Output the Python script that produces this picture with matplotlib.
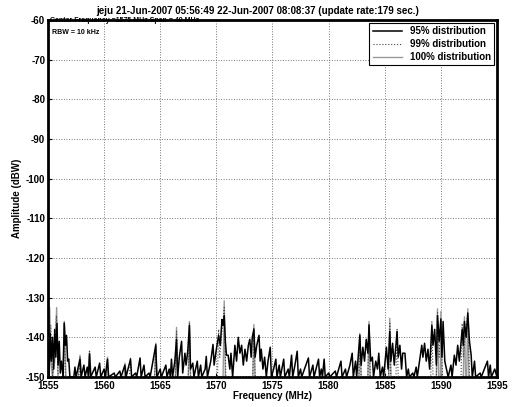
import matplotlib.pyplot as plt
import numpy as np

plt.rcParams['font.family'] = ['Liberation Sans', 'DejaVu Sans']
plt.rcParams['font.weight'] = 'bold'
plt.rcParams['axes.unicode_minus'] = False

# 95% distribution (black)
freq_95 = [1555.0, 1555.1, 1555.2, 1555.3, 1555.4, 1555.5, 1555.6, 1555.7, 1555.8, 1555.9,
           1556.0, 1556.1, 1556.2, 1556.35, 1556.45, 1556.55, 1556.65, 1556.75, 1556.85, 1556.95,
           1557.3, 1557.4, 1557.5, 1557.85, 1557.95, 1558.2, 1558.3, 1558.5, 1558.6, 1558.7,
           1558.8, 1559.2, 1559.3, 1559.6, 1559.7, 1560.0, 1560.1, 1560.3, 1560.4, 1560.9,
           1561.0, 1561.4, 1561.5, 1561.85, 1561.95, 1562.35, 1562.45, 1562.8, 1562.9, 1563.2,
           1563.3, 1563.55, 1563.65, 1564.0, 1564.1, 1564.6, 1564.7, 1565.0, 1565.1, 1565.5,
           1565.6, 1565.8, 1565.9, 1566.0, 1566.1, 1566.3, 1566.45, 1566.55, 1566.7, 1566.9,
           1567.0, 1567.2, 1567.3, 1567.45, 1567.6, 1567.7, 1567.9, 1568.0, 1568.3, 1568.4,
           1568.6, 1568.7, 1569.0, 1569.1, 1569.2, 1569.5, 1569.7, 1569.8, 1570.0, 1570.2,
           1570.35, 1570.5, 1570.6, 1570.7, 1570.8, 1570.9, 1571.05, 1571.2, 1571.3, 1571.45,
           1571.65, 1571.8, 1571.95, 1572.1, 1572.25, 1572.4, 1572.55, 1572.7, 1572.85, 1572.98,
           1573.1, 1573.2, 1573.34, 1573.45, 1573.6, 1573.8, 1573.9, 1574.0, 1574.15, 1574.3,
           1574.45, 1574.6, 1574.8, 1574.9, 1575.1, 1575.3, 1575.4, 1575.6, 1575.7, 1576.0,
           1576.1, 1576.4, 1576.5, 1576.7, 1576.8, 1577.0, 1577.2, 1577.3, 1577.5, 1577.6,
           1578.2, 1578.3, 1578.6, 1578.7, 1579.1, 1579.2, 1579.35, 1579.45, 1579.6, 1579.7,
           1580.0, 1580.1, 1580.6, 1580.7, 1581.1, 1581.2, 1581.5, 1581.6, 1581.9, 1582.1,
           1582.2, 1582.4, 1582.5, 1582.78, 1582.9, 1583.05, 1583.2, 1583.35, 1583.5, 1583.6,
           1583.75, 1583.9, 1584.0, 1584.2, 1584.35, 1584.47, 1584.6, 1584.8, 1584.9, 1585.15,
           1585.3, 1585.45, 1585.55, 1585.7, 1585.85, 1586.1, 1586.2, 1586.35, 1586.5, 1586.6,
           1586.8, 1586.95, 1587.1, 1587.2, 1587.5, 1587.6, 1587.8, 1587.9, 1588.1, 1588.3,
           1588.4, 1588.55, 1588.7, 1588.85, 1589.0, 1589.2, 1589.3, 1589.45, 1589.6, 1589.7,
           1589.85, 1590.0, 1590.1, 1590.2, 1590.35, 1590.5, 1590.65, 1590.9, 1591.0, 1591.2,
           1591.35, 1591.5, 1591.65, 1591.9, 1592.0, 1592.1, 1592.25, 1592.4, 1592.55, 1592.7,
           1592.8, 1593.0, 1593.1, 1593.5, 1593.6, 1594.15, 1594.25, 1594.4, 1594.5, 1594.8,
           1595.0]
amp_95 = [-141, -150, -139, -146, -140, -148, -138, -145, -136.5, -147,
          -141, -149, -146, -150, -136.5, -142, -139.5, -146, -145.5, -150,
          -150, -147.5, -150, -145.5, -150, -147, -150, -147.5, -150, -144.2,
          -150, -147.5, -150, -146.5, -150, -148, -150, -145.5, -150, -149,
          -150, -148.5, -150, -147, -150, -145.5, -150, -149, -150, -145.2,
          -150, -147, -150, -149, -150, -142, -150, -148, -150, -147,
          -150, -148, -150, -145.5, -150, -146, -140.5, -150, -145, -141,
          -149, -144, -147, -143.5, -137, -148, -146.5, -150, -146, -150,
          -147, -150, -148, -144.8, -150, -146, -141.8, -147, -143, -139.5,
          -142, -135.5, -137, -134.5, -141, -144.5, -144.5, -148, -144, -150,
          -142, -146, -140, -144, -142, -147, -143, -146, -142, -140.5,
          -145, -140, -138, -145, -142, -139.5, -146, -143, -148, -145,
          -150, -146, -142.5, -150, -148, -145.5, -150, -147, -150, -145.5,
          -150, -148, -150, -144.5, -150, -147, -143.5, -150, -148, -150,
          -145.2, -150, -147, -150, -145.5, -150, -148, -150, -145.5, -150,
          -149, -150, -148.5, -150, -146, -150, -148, -150, -147, -144,
          -150, -146, -150, -139.5, -147, -142.5, -146, -140.5, -144, -137,
          -146, -145, -150, -146, -148, -144, -150, -147.5, -150, -142.5,
          -148, -138.5, -146, -141.5, -147, -138.5, -145, -142, -148, -144,
          -144, -150, -148, -150, -149, -150, -147.5, -150, -146, -142,
          -145, -141.5, -146, -143, -148, -137, -142, -138, -147, -134.5,
          -141, -135.5, -145, -136, -146, -148, -150, -147, -150, -144.5,
          -147, -142, -146, -138, -142, -136, -140, -134, -141, -144.5,
          -150, -146, -150, -149, -150, -146, -150, -147, -150, -148,
          -150]

# 99% distribution (dotted)
freq_99 = [1555.0, 1555.1, 1555.25, 1555.4, 1555.75, 1555.9, 1556.35, 1556.45, 1556.55, 1557.75,
           1557.85, 1557.95, 1558.6, 1558.7, 1558.8, 1562.25, 1562.35, 1562.45, 1564.5, 1564.6,
           1564.7, 1566.35, 1566.45, 1566.55, 1567.5, 1567.6, 1567.7, 1570.1, 1570.2, 1570.3,
           1570.7, 1570.85, 1573.25, 1573.34, 1573.45, 1582.7, 1582.78, 1582.9, 1583.5, 1583.6,
           1583.7, 1585.35, 1585.45, 1585.55, 1586.0, 1586.1, 1586.2, 1589.1, 1589.2, 1589.3,
           1589.6, 1589.7, 1589.85, 1590.0, 1590.15, 1591.8, 1591.9, 1592.0, 1592.4, 1592.55,
           1595.0]
amp_99 = [-140, -150, -137, -150, -134.5, -150, -150, -136, -150, -150,
          -145, -150, -150, -143.5, -150, -150, -145, -150, -150, -141.5,
          -150, -150, -138.5, -150, -150, -136.5, -150, -150, -138, -145,
          -132.5, -150, -150, -137.5, -150, -150, -139.2, -150, -150, -136.5,
          -150, -150, -136.5, -150, -150, -138, -150, -150, -136, -150,
          -150, -133.8, -145, -135, -150, -150, -136.5, -145, -133.5, -150,
          -150]

# 100% distribution (gray)
freq_100 = [1555.0, 1555.15, 1555.25, 1555.4, 1555.6, 1555.77, 1555.9, 1556.3, 1556.45, 1556.6,
            1557.7, 1557.85, 1558.0, 1558.6, 1558.7, 1558.85, 1560.2, 1560.3, 1560.4, 1561.8,
            1561.86, 1562.0, 1564.5, 1564.6, 1564.7, 1566.35, 1566.45, 1566.55, 1567.5, 1567.6,
            1567.7, 1570.6, 1570.7, 1570.8, 1573.25, 1573.34, 1573.45, 1582.7, 1582.78, 1582.9,
            1583.5, 1583.6, 1583.7, 1585.35, 1585.45, 1585.55, 1589.6, 1589.7, 1589.8, 1589.95,
            1590.0, 1590.1, 1592.0, 1592.1, 1592.2, 1592.3, 1592.4, 1592.5, 1595.0]
amp_100 = [-141, -132.5, -145, -150, -146, -132.5, -150, -150, -136, -150,
           -150, -144.5, -150, -150, -143.5, -150, -150, -145, -150, -150,
           -146.5, -150, -150, -141.5, -150, -150, -137.5, -150, -150, -136,
           -150, -150, -130.8, -150, -150, -136.8, -150, -150, -139, -150,
           -150, -136, -150, -150, -135.2, -150, -150, -132.8, -150, -150,
           -133.5, -150, -150, -134.8, -150, -150, -132.8, -150, -150]

x_ticks = [1555, 1560, 1565, 1570, 1575, 1580, 1585, 1590, 1595]
y_ticks = [-150, -140, -130, -120, -110, -100, -90, -80, -70, -60]

fig = plt.figure(figsize=(5.15, 4.07), dpi=100)
ax = fig.add_axes([0.0932, 0.0737, 0.8718, 0.8773])

ax.plot(freq_100, amp_100, color='#9a9a9a', lw=1.0, label='100% distribution', zorder=2)
ax.plot(freq_99, amp_99, color='#444444', lw=0.8, ls=':', label='99% distribution', zorder=3)
ax.plot(freq_95, amp_95, color='black', lw=1.1, label='95% distribution', zorder=4)

ax.set_xlim(1555, 1595)
ax.set_ylim(-150, -60)
ax.set_xticks(x_ticks)
ax.set_yticks(y_ticks)
ax.tick_params(direction='in', length=3, width=0.8, labelsize=7, pad=2)
ax.tick_params(axis='x', pad=3)
ax.grid(True, ls=':', color='#777777', lw=0.7)
for s in ax.spines.values():
    s.set_linewidth(2)

ax.set_xlabel('Frequency (MHz)', fontsize=7, fontweight='bold', labelpad=0)
ax.set_ylabel('Amplitude (dBW)', fontsize=7, fontweight='bold', labelpad=3)
fig.text(0.5, 0.985, 'jeju 21-Jun-2007 05:56:49 22-Jun-2007 08:08:37 (update rate:179 sec.)',
         ha='center', va='top', fontsize=7, fontweight='bold')
ax.text(0.005, 0.999, 'Center Frequency =1575 MHz Span = 40 MHz',
        transform=ax.transAxes, ha='left', va='center', fontsize=5, fontweight='bold')
ax.text(0.008, 0.975, 'RBW = 10 kHz', transform=ax.transAxes, ha='left', va='top',
        fontsize=5, fontweight='bold')

h, l = ax.get_legend_handles_labels()
leg = ax.legend(h[::-1], l[::-1], loc='upper right', fontsize=7, handlelength=3.0,
                borderpad=0.35, labelspacing=0.3, handletextpad=0.8, fancybox=False,
                framealpha=1, edgecolor='black', borderaxespad=0.3)
leg.get_frame().set_linewidth(0.8)

plt.savefig('out.png', dpi=100)
